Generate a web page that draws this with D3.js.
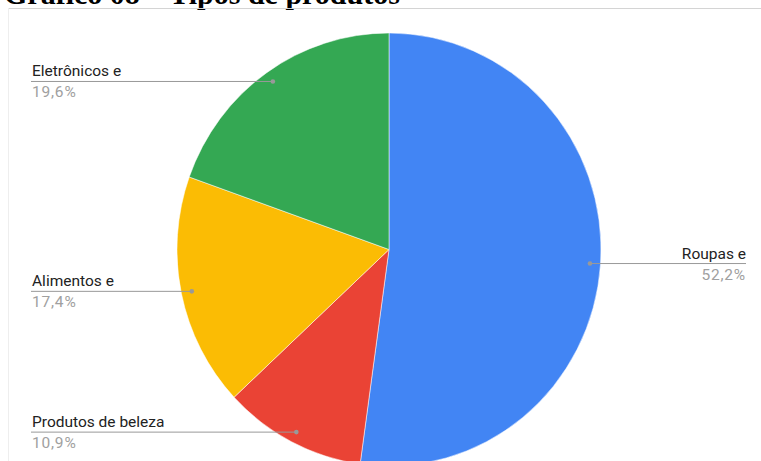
<!DOCTYPE html>
<html>
<head>
<meta charset="utf-8">
<script src="https://cdn.jsdelivr.net/npm/d3@7"></script>
<style>
  html, body { margin: 0; padding: 0; background: #fff; }
  svg { display: block; }
</style>
</head>
<body>
<svg id="chart" width="761" height="461"></svg>
<script>
// Product types and their counts
const categories = ["Roupas e", "Produtos de beleza", "Alimentos e", "Eletrônicos e"];
const values = [24, 5, 8, 9];
const colors = ["#4285F4", "#EA4335", "#FBBC04", "#34A853"];
const titleText = "Gráfico 08 – Tipos de produtos";

const W = 761, H = 461;
const svg = d3.select("#chart");

// Title (partly above the visible area)
svg.append("text")
  .attr("x", 4).attr("y", 4)
  .attr("font-family", "'Liberation Serif', 'Times New Roman', serif")
  .attr("font-weight", "bold")
  .attr("font-size", 30)
  .attr("fill", "#000")
  .text(titleText);

// Chart frame
svg.append("line").attr("x1", 8).attr("x2", W).attr("y1", 8.5).attr("y2", 8.5)
  .attr("stroke", "#d4d4d4").attr("stroke-width", 1);
svg.append("line").attr("x1", 8.5).attr("x2", 8.5).attr("y1", 8).attr("y2", H)
  .attr("stroke", "#eeeeee").attr("stroke-width", 1);

// Pie geometry (slightly taller than wide)
const cx = 389, cy = 249.5, rx = 212, ry = 216.5;
const total = d3.sum(values);
const data = categories.map((c, i) => ({ name: c, value: values[i], color: colors[i] }));

const pie = d3.pie().value(d => d.value).sort(null);
const arcs = pie(data);
const arc = d3.arc().innerRadius(0).outerRadius(rx);

const g = svg.append("g").attr("transform", `translate(${cx},${cy}) scale(1,${ry / rx})`);
g.selectAll("path.slice").data(arcs).join("path")
  .attr("class", "slice")
  .attr("d", arc)
  .attr("fill", d => d.data.color)
  .attr("stroke", "#fff").attr("stroke-width", 0.5);

const fmt = v => (v / total * 100).toFixed(1).replace(".", ",") + "%";
const font = "Roboto, Arial, sans-serif";
const leftX = 31, rightX = 746;

arcs.forEach(a => {
  const mid = (a.startAngle + a.endAngle) / 2;
  const px = cx + 0.95 * rx * Math.sin(mid);
  const py = cy - 0.95 * ry * Math.cos(mid);
  const right = Math.sin(mid) > 0;
  const ex = right ? rightX : leftX;

  svg.append("line")
    .attr("x1", px).attr("y1", py).attr("x2", ex).attr("y2", py)
    .attr("stroke", "#999").attr("stroke-width", 1);
  svg.append("circle").attr("cx", px).attr("cy", py).attr("r", 2.3).attr("fill", "#999");

  svg.append("text")
    .attr("x", right ? ex : ex + 1).attr("y", py - 5)
    .attr("text-anchor", right ? "end" : "start")
    .attr("font-family", font).attr("font-size", 15.5)
    .attr("fill", "#222")
    .text(a.data.name);
  svg.append("text")
    .attr("x", right ? ex : ex + 1).attr("y", py + 16)
    .attr("text-anchor", right ? "end" : "start")
    .attr("font-family", font).attr("font-size", 15.5)
    .attr("fill", "#a0a0a0")
    .attr("letter-spacing", 0.8)
    .text(fmt(a.data.value));
});
</script>
</body>
</html>
